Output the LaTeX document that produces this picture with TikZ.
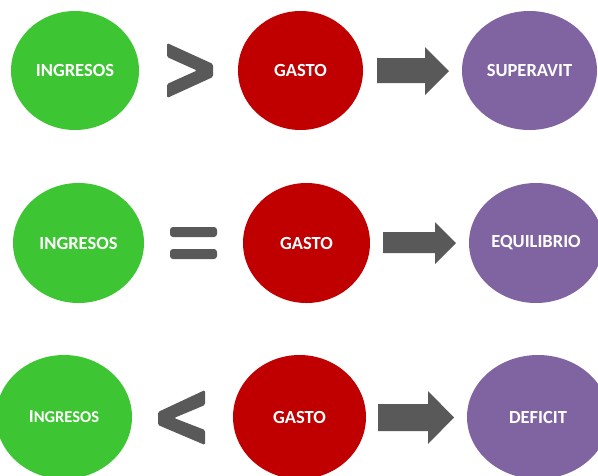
\documentclass[tikz,border=0pt]{standalone}
\usepackage{fontspec}
\setmainfont{Carlito}
\usetikzlibrary{shapes.geometric}
\definecolor{verde}{RGB}{62,197,51}
\definecolor{rojo}{RGB}{192,0,0}
\definecolor{morado}{RGB}{128,100,162}
\definecolor{gris}{RGB}{89,89,89}
\begin{document}
\begin{tikzpicture}[x=1pt,y=-1pt,
 bola/.style={ellipse,inner sep=0pt,text=white,font=\fontsize{18.5}{20}\selectfont\bfseries},
 signo/.style={fill=gris,draw=none,rounded corners=1.5pt}]
 \useasboundingbox (0,0) rectangle (598,475);
 \begin{scope}
 \clip (0,0) rectangle (598,475);
 % fila 1
 \node[bola,fill=verde,minimum width=128,minimum height=119] (ing1) at (75,70.5) {INGRESOS};
 \node[bola,fill=rojo,minimum width=125,minimum height=119] (gas1) at (300.5,70.5) {GASTO};
 \node[bola,fill=morado,minimum width=135,minimum height=119] (sup) at (529.5,70.5) {SUPERAVIT};
 \draw[signo](167,43)--(213,64)--(213,77)--(167,98)--(167,84)--(197,70.5)--(167,57)--cycle;
 \draw[signo,rounded corners=0pt](377,58)--(425,58)--(425,47)--(449,71)--(425,95)--(425,83)--(377,83)--cycle;
 % fila 2
 \node[bola,fill=verde,minimum width=131,minimum height=120] (ing2) at (78.5,243) {INGRESOS};
 \node[bola,fill=rojo,minimum width=127,minimum height=120] (gas2) at (306.5,243) {GASTO};
 \node[bola,fill=morado,minimum width=134,minimum height=120] (equ) at (536,243) {EQUILIBRIO};
 \draw[signo,rounded corners=3pt](170,227) rectangle (217,237);
 \draw[signo,rounded corners=3pt](170,249) rectangle (217,259);
 \draw[signo,rounded corners=0pt](383,232)--(435,232)--(435,222)--(456,243)--(435,264)--(435,253)--(383,253)--cycle;
 % fila 3
 \node[bola,fill=verde,minimum width=136,minimum height=124] (ing3) at (64,417) {I{\fontsize{16.5}{18}\selectfont NGRESOS}};
 \node[bola,fill=rojo,minimum width=133,minimum height=124] (gas3) at (299.5,417) {GASTO};
 \node[bola,fill=morado,minimum width=142,minimum height=124] (def) at (538,417) {DEFICIT};
 \draw[signo](205,390)--(158,412)--(158,425)--(205,445)--(205,430)--(174,418)--(205,405)--cycle;
 \draw[signo,rounded corners=0pt](378,404)--(428,404)--(428,391)--(454,417.5)--(428,444)--(428,431)--(378,431)--cycle;
 \end{scope}
\end{tikzpicture}
\end{document}
